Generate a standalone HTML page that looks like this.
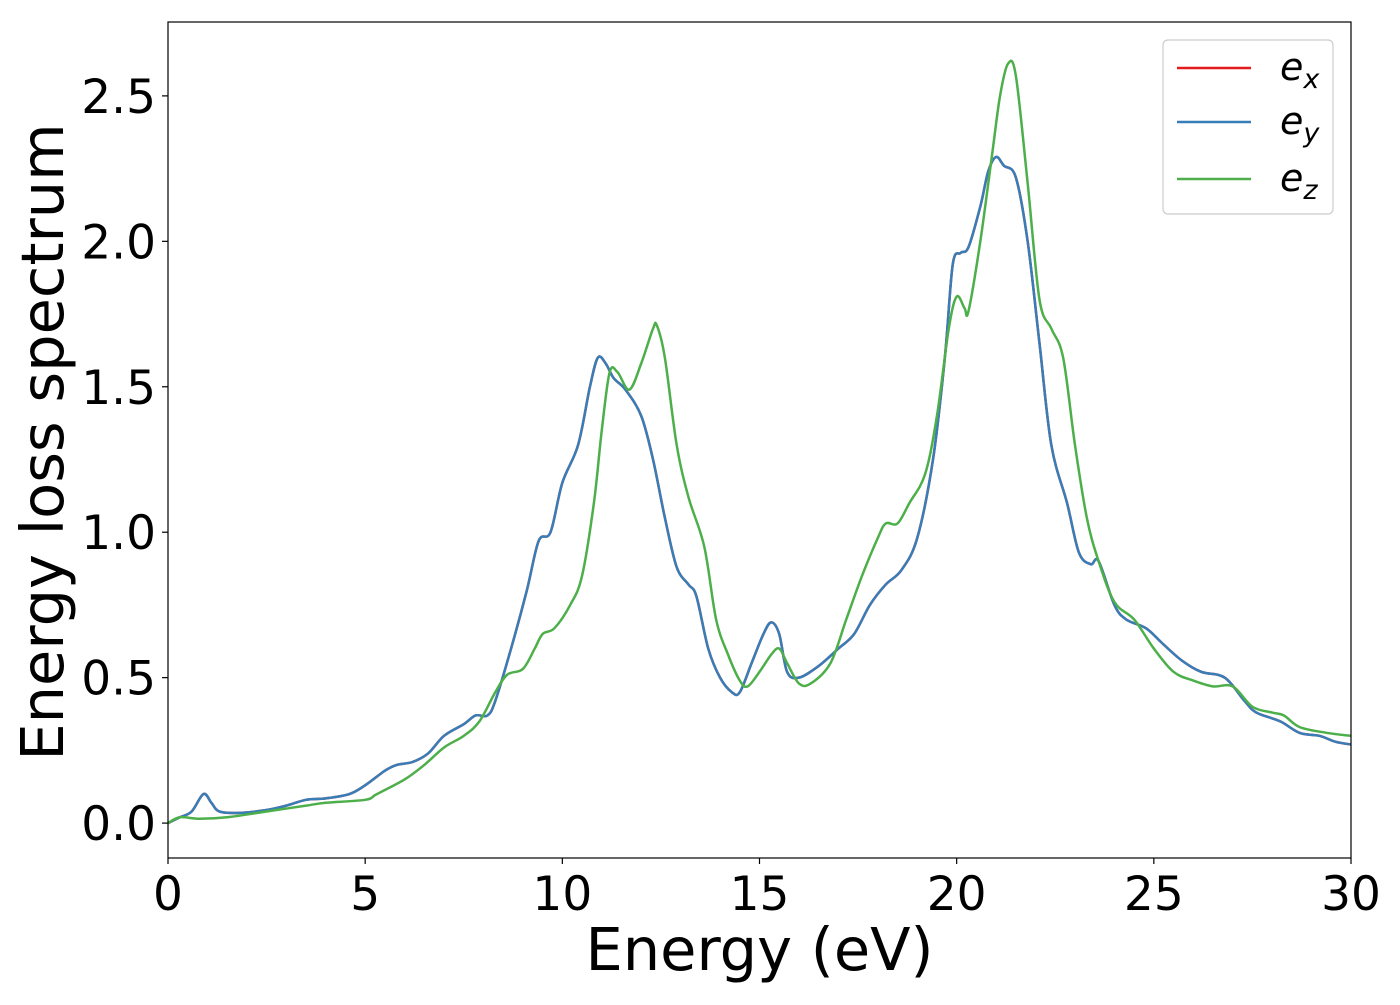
<!DOCTYPE html>
<html><head><meta charset="utf-8"><style>
body{margin:0;background:#fff}
svg text{font-family:"DejaVu Sans","Liberation Sans",sans-serif;fill:#000}
</style></head><body>
<svg id="chart" width="1400" height="1000" xmlns="http://www.w3.org/2000/svg">
<g id="plot"></g>
</svg>
<script>
const exData=[[0,0],[0.3,0.02],[0.6,0.04],[0.9,0.1],[1.1,0.07],[1.3,0.04],[1.8,0.035],[2.5,0.045],[3,0.06],[3.5,0.08],[4,0.085],[4.6,0.1],[5,0.13],[5.5,0.18],[5.8,0.2],[6.2,0.21],[6.6,0.24],[7,0.3],[7.5,0.34],[7.8,0.37],[8.1,0.37],[8.3,0.42],[8.7,0.6],[9.1,0.8],[9.4,0.97],[9.7,1.0],[10,1.17],[10.4,1.3],[10.7,1.5],[10.9,1.6],[11.1,1.58],[11.3,1.53],[11.6,1.49],[12,1.4],[12.3,1.25],[12.6,1.05],[12.9,0.88],[13.2,0.82],[13.4,0.78],[13.7,0.6],[14,0.5],[14.3,0.45],[14.5,0.45],[14.8,0.55],[15.1,0.65],[15.3,0.69],[15.5,0.65],[15.7,0.52],[16,0.5],[16.5,0.54],[17,0.6],[17.4,0.65],[17.8,0.75],[18.2,0.82],[18.6,0.87],[19,0.98],[19.4,1.25],[19.7,1.6],[19.9,1.92],[20.1,1.96],[20.3,1.98],[20.6,2.12],[20.8,2.24],[21,2.29],[21.2,2.26],[21.5,2.22],[21.8,2.0],[22.1,1.65],[22.4,1.3],[22.8,1.1],[23.1,0.93],[23.4,0.89],[23.6,0.9],[24,0.75],[24.3,0.7],[24.8,0.67],[25.2,0.62],[25.7,0.56],[26.2,0.52],[26.8,0.5],[27.3,0.42],[27.6,0.38],[28.2,0.35],[28.7,0.31],[29.2,0.3],[29.6,0.28],[30,0.27]];
const eyData=exData.map(p=>[p[0],p[1]]);
const ezData=[[0,0],[0.3,0.02],[0.8,0.015],[1.5,0.02],[2.5,0.04],[3,0.05],[3.5,0.06],[4,0.07],[5,0.08],[5.3,0.1],[6,0.15],[6.5,0.2],[7,0.26],[7.5,0.3],[7.9,0.35],[8.3,0.45],[8.6,0.51],[9,0.53],[9.3,0.6],[9.5,0.65],[9.8,0.67],[10.2,0.75],[10.5,0.85],[10.8,1.1],[11,1.35],[11.2,1.55],[11.4,1.55],[11.7,1.49],[12,1.58],[12.3,1.7],[12.4,1.71],[12.6,1.6],[12.9,1.3],[13.2,1.12],[13.6,0.95],[13.9,0.7],[14.2,0.58],[14.5,0.49],[14.7,0.47],[15,0.52],[15.3,0.58],[15.5,0.6],[15.7,0.55],[16,0.48],[16.3,0.48],[16.8,0.55],[17.2,0.7],[17.6,0.85],[18,0.98],[18.2,1.03],[18.5,1.03],[18.8,1.1],[19.2,1.2],[19.5,1.4],[19.8,1.7],[20,1.81],[20.2,1.77],[20.3,1.76],[20.6,2.0],[20.9,2.3],[21.1,2.5],[21.3,2.61],[21.5,2.57],[21.8,2.2],[22.1,1.8],[22.4,1.7],[22.7,1.6],[23,1.3],[23.3,1.05],[23.6,0.9],[24,0.76],[24.5,0.7],[25,0.6],[25.5,0.52],[26,0.49],[26.5,0.47],[27,0.47],[27.5,0.4],[28,0.38],[28.3,0.37],[28.7,0.33],[29.4,0.31],[30,0.3]];
const xTicks=[0,5,10,15,20,25,30];
const yTicks=[0,0.5,1,1.5,2,2.5];
const yTickLabels=["0.0","0.5","1.0","1.5","2.0","2.5"];

const L=168,R=1351,T=22,B=858;
const xMin=0,xMax=30,yMin=-0.12,yMax=2.754;
const X=v=>L+(v-xMin)/(xMax-xMin)*(R-L);
const Y=v=>B-(v-yMin)/(yMax-yMin)*(B-T);
const NS="http://www.w3.org/2000/svg";
const g=document.getElementById('plot');
function mk(tag,attrs,parent){const e=document.createElementNS(NS,tag);for(const k in attrs)e.setAttribute(k,attrs[k]);(parent||g).appendChild(e);return e;}
function pathFor(d){
  const p=d.map(q=>[X(q[0]),Y(q[1])]);
  let s='M'+p[0][0]+','+p[0][1];
  for(let i=0;i<p.length-1;i++){
    const p0=p[i-1]||p[i],p1=p[i],p2=p[i+1],p3=p[i+2]||p2;
    const c1=[p1[0]+(p2[0]-p0[0])/6,p1[1]+(p2[1]-p0[1])/6];
    const c2=[p2[0]-(p3[0]-p1[0])/6,p2[1]-(p3[1]-p1[1])/6];
    s+=`C${c1[0]},${c1[1]} ${c2[0]},${c2[1]} ${p2[0]},${p2[1]}`;
  }
  return s;
}
mk('clipPath',{id:'clip'}).appendChild((()=>{const r=document.createElementNS(NS,'rect');r.setAttribute('x',L);r.setAttribute('y',T);r.setAttribute('width',R-L);r.setAttribute('height',B-T);return r;})());
const series=[[exData,'#e41a1c','series-ex'],[eyData,'#377eb8','series-ey'],[ezData,'#4daf4a','series-ez']];
series.forEach(s=>{
  const e=mk('path',{d:pathFor(s[0]),fill:'none',stroke:s[1],'stroke-width':2.5,'clip-path':'url(#clip)'});
  
  
});
const frame=mk('rect',{x:L,y:T,width:R-L,height:B-T,fill:'none',stroke:'#000','stroke-width':1.2});


xTicks.forEach(v=>{
  const t=mk('line',{x1:X(v),x2:X(v),y1:B,y2:B+6,stroke:'#000','stroke-width':1.2});
  
  
  const l=mk('text',{x:X(v),y:B+52,'font-size':47,'text-anchor':'middle'});
  l.textContent=v;
  
  
});
yTicks.forEach((v,i)=>{
  const t=mk('line',{x1:L-6,x2:L,y1:Y(v),y2:Y(v),stroke:'#000','stroke-width':1.2});
  
  
  const l=mk('text',{x:L-12,y:Y(v)+17,'font-size':47,'text-anchor':'end'});
  l.textContent=yTickLabels[i];
  
  
});
const xt=mk('text',{x:(L+R)/2,y:970,'font-size':59,'text-anchor':'middle'});
xt.textContent='Energy (eV)';


const yt=mk('text',{x:0,y:0,'font-size':59,'text-anchor':'middle',transform:`translate(63,${(T+B)/2+2}) rotate(-90)`});
yt.textContent='Energy loss spectrum';


const lg=mk('g',{});


mk('rect',{x:1163,y:40,width:170,height:174,rx:5,fill:'#fff',stroke:'#ccc','stroke-width':1.2},lg);
const labs=['x','y','z'],ly=[68,122,179];
series.forEach((s,i)=>{
  const ln=mk('line',{x1:1177,x2:1251,y1:ly[i],y2:ly[i],stroke:s[1],'stroke-width':2.5},lg);
  
  
  const t=mk('text',{x:1280,y:ly[i]+12,'font-size':38,'font-style':'italic'},lg);
  
  
  const a=document.createElementNS(NS,'tspan');a.textContent='e';t.appendChild(a);
  const b=document.createElementNS(NS,'tspan');b.setAttribute('font-size','27');b.setAttribute('dy','8');b.textContent=labs[i];t.appendChild(b);
});
</script>
</body></html>
